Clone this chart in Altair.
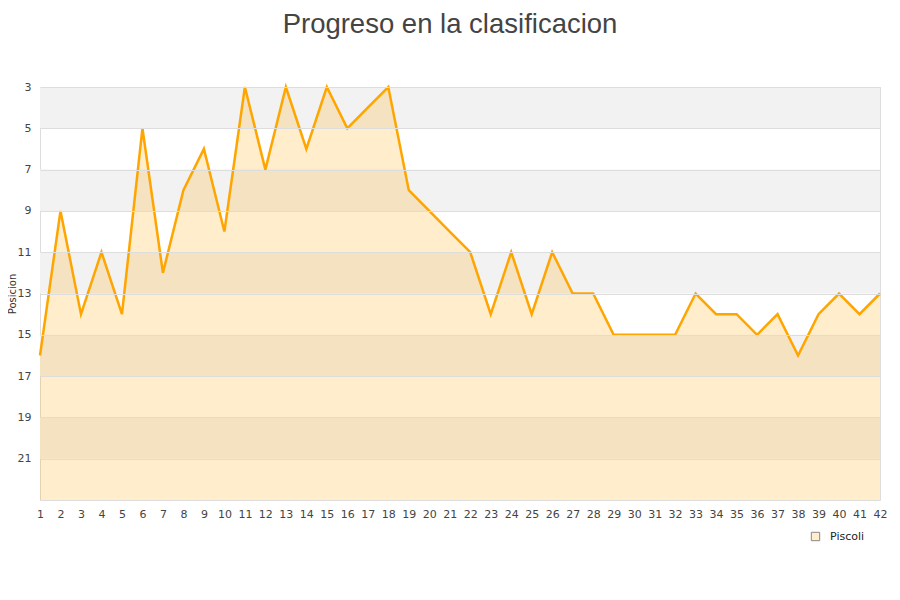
import altair as alt
import pandas as pd

jornadas = list(range(1, 43))
posicion = [16, 9, 14, 11, 14, 5, 12, 8, 6, 10, 3, 7, 3, 6, 3, 5, 4, 3, 8, 9,
            10, 11, 14, 11, 14, 11, 13, 13, 15, 15, 15, 15, 13, 14, 14, 15, 14, 16, 14, 13,
            14, 13]
equipo = "Piscoli"
y_ticks = [3, 5, 7, 9, 11, 13, 15, 17, 19, 21]
band_start = [3, 7, 11, 15, 19]
band_end = [5, 9, 13, 17, 21]

df = pd.DataFrame({"jornada": jornadas, "posicion": posicion, "equipo": equipo})
bands = pd.DataFrame({"y0": band_start, "y1": band_end})

W, H = 840, 413
xscale = alt.Scale(domain=[1, 42], nice=False, zero=False)
yscale = alt.Scale(domain=[3, 23], reverse=True, nice=False, zero=False)

xaxis = alt.Axis(values=jornadas, title=None, grid=False, domain=False, ticks=False,
                 labelColor="#444", labelFontSize=11, labelFont="DejaVu Sans",
                 labelPadding=8, labelFlush=False, labelOverlap=False, labelBound=False)
yaxis = alt.Axis(values=y_ticks, title="Posicion", grid=True, gridColor="#dddddd",
                 domain=False, ticks=False, labelColor="#444", labelFontSize=11,
                 labelFont="DejaVu Sans", labelPadding=9, labelOverlap=False,
                 titleFontSize=10, titleFont="DejaVu Sans", titleColor="#333",
                 titleFontWeight="normal", titleX=-28, titleY=H / 2,
                 titleAlign="center", titleBaseline="middle", titleAngle=270,
                 zindex=1)

band_layer = alt.Chart(bands).mark_rect(color="#f2f2f2").encode(
    y=alt.Y("y0:Q", scale=yscale, axis=yaxis),
    y2="y1:Q",
    x=alt.value(0),
    x2=alt.value(W),
)

area = alt.Chart(df).mark_area().encode(
    x=alt.X("jornada:Q", scale=xscale, axis=xaxis),
    y=alt.Y("posicion:Q", scale=yscale, axis=yaxis),
    y2=alt.datum(23),
    fill=alt.Fill("equipo:N", scale=alt.Scale(range=["rgba(255,165,0,0.2)"]),
                  legend=alt.Legend(title=None, orient="none", legendX=770, legendY=444,
                                    symbolType="square", symbolSize=70,
                                    symbolStrokeColor="#888", symbolStrokeWidth=1,
                                    labelFont="DejaVu Sans", labelOffset=9,
                                    labelFontSize=11, labelColor="#222")),
)

line = alt.Chart(df).mark_line(color="#ffa500", strokeWidth=2.5).encode(
    x=alt.X("jornada:Q", scale=xscale, axis=xaxis),
    y=alt.Y("posicion:Q", scale=yscale, axis=yaxis),
)

chart = alt.layer(band_layer, area, line).properties(
    width=W, height=H,
    title=alt.TitleParams("Progreso en la clasificacion", font="Liberation Sans",
                          fontSize=27.5, fontWeight="normal", color="#444", anchor="middle",
                          offset=43, dx=-10),
    padding={"left": 32, "top": 79, "right": 12, "bottom": 90},
    autosize=alt.AutoSizeParams(type="none"),
).configure_view(stroke="#dddddd", strokeWidth=1)

chart.save("out.html", embed_options={"renderer": "svg", "actions": False})
